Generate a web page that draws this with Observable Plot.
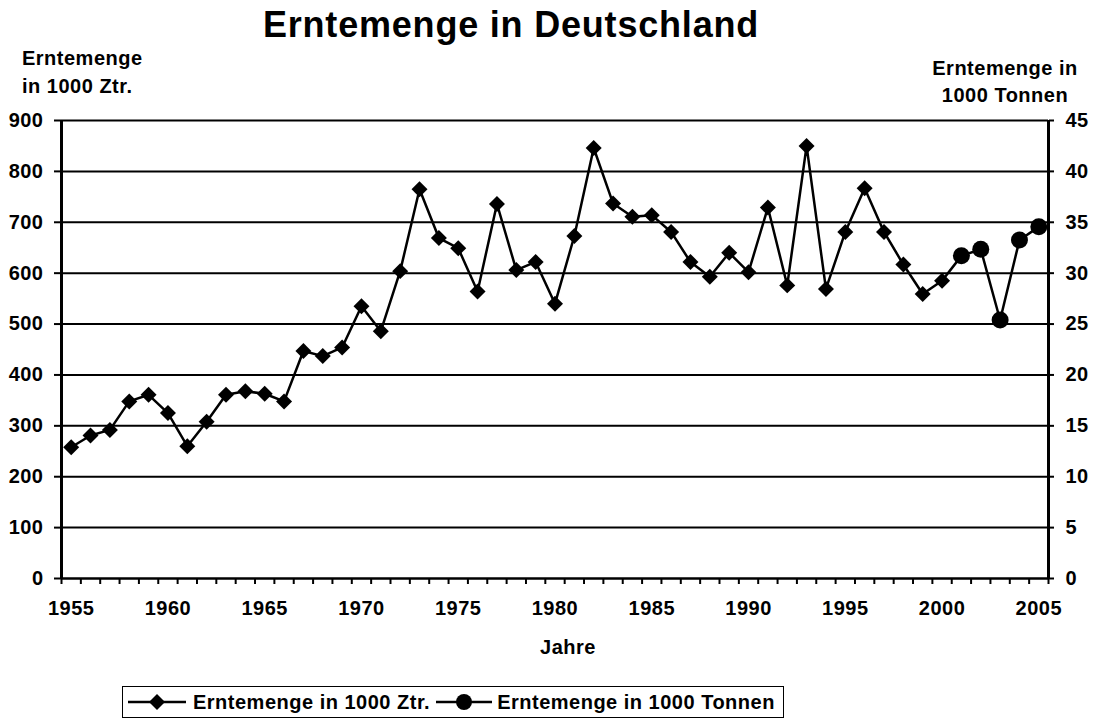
<!DOCTYPE html>
<html><head><meta charset="utf-8">
<script src="https://cdn.jsdelivr.net/npm/d3@7"></script>
<script src="https://cdn.jsdelivr.net/npm/@observablehq/plot@0.6"></script>
<style>
body{margin:0;background:#fff;}
#wrap{position:relative;width:1094px;height:724px;font-family:"Liberation Sans",Arial,sans-serif;font-weight:bold;color:#000;letter-spacing:0.5px;overflow:hidden;background:#fff}
.abs{position:absolute;white-space:nowrap}
#legend{display:flex;align-items:center;box-sizing:border-box;font-size:20px}
#legend svg{display:block;flex:none}
</style></head><body>
<div id="wrap">
  <div id="chart" class="abs" style="left:0;top:0"></div>
  <div class="abs" style="left:0;width:1022px;top:5px;text-align:center;font-size:36px;letter-spacing:0.8px;line-height:40px">Erntemenge in Deutschland</div>
  <div class="abs" style="left:22px;top:44px;font-size:20px;line-height:28px">Erntemenge<br>in 1000 Ztr.</div>
  <div class="abs" style="left:905px;width:200px;top:55px;text-align:center;font-size:20px;line-height:27px">Erntemenge in<br>1000 Tonnen</div>
  <div class="abs" style="left:468px;width:200px;top:635px;text-align:center;font-size:20px;line-height:24px">Jahre</div>
  <div id="legend" class="abs" style="left:122px;top:686px;height:32px;border:1.5px solid #000;padding:0 8px 0 5px">
    <svg width="58" height="20"><line x1="0" y1="10" x2="58" y2="10" stroke="#000" stroke-width="2.5"/><polygon points="29,2 37,10 29,18 21,10" fill="#000"/></svg>
    <span style="margin-left:7px">Erntemenge in 1000 Ztr.</span>
    <svg width="56" height="20" style="margin-left:6px"><line x1="0" y1="10" x2="56" y2="10" stroke="#000" stroke-width="2.5"/><circle cx="28" cy="10" r="8" fill="#000"/></svg>
    <span style="margin-left:5px">Erntemenge in 1000 Tonnen</span>
  </div>
</div>
<script>
// Data
const yearsZtr = [1955,1956,1957,1958,1959,1960,1961,1962,1963,1964,
                  1965,1966,1967,1968,1969,1970,1971,1972,1973,1974,
                  1975,1976,1977,1978,1979,1980,1981,1982,1983,1984,
                  1985,1986,1987,1988,1989,1990,1991,1992,1993,1994,
                  1995,1996,1997,1998,1999,2000];
const ernteZtr = [258,281,292,348,361,325,260,308,361,368,
                  363,348,447,437,454,535,486,604,765,669,
                  649,564,736,606,622,540,673,846,737,711,
                  714,681,622,593,640,602,729,576,850,569,
                  681,767,681,617,559,585];
const yearsTonnen = [2001,2002,2003,2004,2005];
const ernteTonnen = [31.7,32.35,25.4,33.25,34.55];
const ztrPerTonne = 20;            // right axis: 45 t = 900 Ztr.
const leftTicks = [0,100,200,300,400,500,600,700,800,900];
const labelYears = [1955,1960,1965,1970,1975,1980,1985,1990,1995,2000,2005];

const ztrRows = yearsZtr.map((year, i) => ({year, value: ernteZtr[i]}));
const tonRows = yearsTonnen.map((year, i) => ({year, value: ernteTonnen[i] * ztrPerTonne}));
const allRows = ztrRows.concat(tonRows);
const firstYear = yearsZtr[0], lastYear = yearsTonnen[yearsTonnen.length - 1];
// category boundaries (Excel-style: points between tick marks)
const boundaries = d3.range(firstYear - 0.5, lastYear + 1, 1);

const chart = Plot.plot({
  width: 1094, height: 724,
  marginLeft: 61, marginRight: 46, marginTop: 120, marginBottom: 146,
  x: {domain: [firstYear - 0.5, lastYear + 0.5], axis: null},
  y: {domain: [0, 900], axis: null},
  style: {fontFamily: "'Liberation Sans', Arial, sans-serif", fontSize: "20px", fontWeight: "bold", letterSpacing: "0.5px", color: "black", background: "white", overflow: "visible"},
  marks: [
    Plot.ruleY(leftTicks.filter(d => d > 0), {stroke: "black", strokeWidth: 2}),
    Plot.ruleY([0], {stroke: "black", strokeWidth: 2.5}),
    Plot.ruleX([firstYear - 0.5, lastYear + 0.5], {stroke: "black", strokeWidth: 3}),
    Plot.axisY({anchor: "left", ticks: leftTicks, tickSize: 7, tickPadding: 11, label: null, strokeWidth: 2}),
    Plot.axisY({anchor: "right", ticks: leftTicks, tickSize: 5, tickPadding: 12, tickFormat: d => String(d / ztrPerTonne), label: null, strokeWidth: 2}),
    Plot.axisX({ticks: boundaries, tickSize: 6, tickFormat: () => "", label: null, strokeWidth: 2}),
    Plot.axisX({ticks: labelYears, tickSize: 0, tickPadding: 22, tickFormat: d => String(d), label: null}),
    Plot.line(allRows, {x: "year", y: "value", stroke: "black", strokeWidth: 2.5}),
    Plot.dot(ztrRows, {x: "year", y: "value", symbol: "diamond2", r: 7.2, fill: "black", stroke: "none"}),
    Plot.dot(tonRows, {x: "year", y: "value", r: 8.5, fill: "black", stroke: "none"})
  ]
});
document.getElementById("chart").appendChild(chart);
</script>
</body></html>
